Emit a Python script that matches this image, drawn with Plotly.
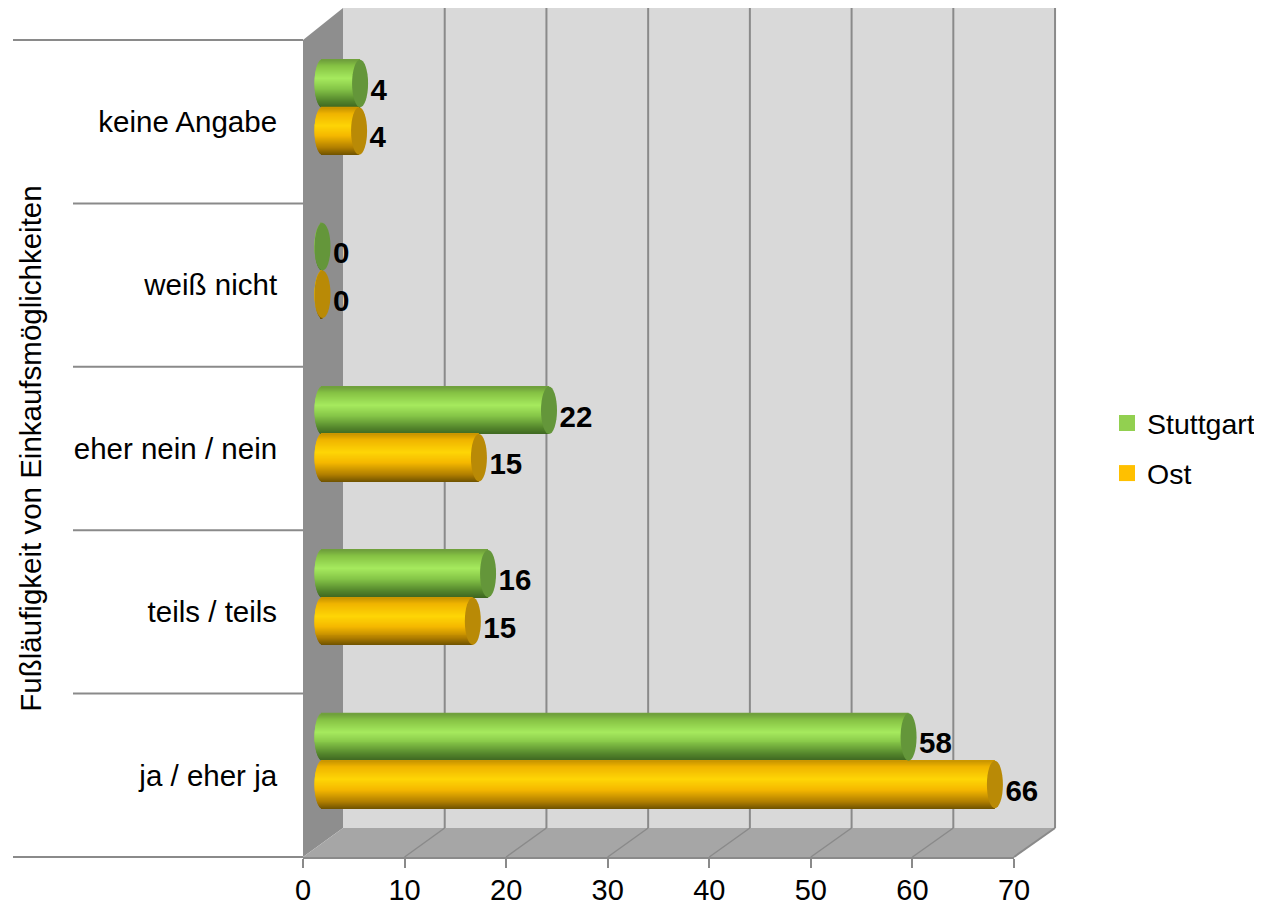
import math
import plotly.graph_objects as go

categories = ["ja / eher ja", "teils / teils", "eher nein / nein", "weiß nicht", "keine Angabe"]
stuttgart = [57.7, 16.3, 22.3, 0, 3.7]
ost = [66.2, 14.8, 15.4, 0, 3.6]
x_ticks = [0, 10, 20, 30, 40, 50, 60, 70]
axis_title = "Fußläufigkeit von Einkaufsmöglichkeiten"

PAGE = 8                   # default page margin of the written html
W, H = 1262, 906
FONT = "Liberation Sans"
TXT = 29.5
X0, X70, Y_BOT, Y_TOP = 303, 1014, 857, 40
ppx = (X70 - X0) / 70
ppy = (Y_BOT - Y_TOP) / 5
RX, RB, RT = 343, 828, 8   # rear wall left / bottom / top
DX = 101.72                # rear grid spacing


def px(x):
    return (x - PAGE) / W


def py(y):
    return 1 - (y - PAGE) / H


def poly(points, fill, line="#8a8a8a", width=1.5):
    path = "M" + " L".join(f"{px(a):.5f},{py(b):.5f}" for a, b in points) + " Z"
    return dict(type="path", xref="paper", yref="paper", path=path, fillcolor=fill,
                line=dict(color=line, width=width), layer="below")


def seg(a, b, c, d, width=2, color="#8a8a8a"):
    return dict(type="line", xref="paper", yref="paper", x0=px(a), y0=py(b), x1=px(c), y1=py(d),
                line=dict(color=color, width=width), layer="below")


shapes = [
    poly([(RX, RT), (RX + 7 * DX, RT), (RX + 7 * DX, RB), (RX, RB)], "#d9d9d9", line="#d9d9d9", width=0),
    poly([(X0, Y_TOP), (RX, RT), (RX, RB), (X0, Y_BOT)], "#8e8e8e", line="#8e8e8e", width=0),
    poly([(X0, Y_BOT), (RX, RB), (RX + 7 * DX, RB), (X70, Y_BOT)], "#a6a6a6", line="#a6a6a6", width=0),
    seg(RX + 7 * DX, RT, RX + 7 * DX, RB),
    seg(RX + 7 * DX, RB, X70, Y_BOT),
]
for k in range(1, 7):
    shapes.append(seg(RX + k * DX, RT, RX + k * DX, RB))
    shapes.append(seg(X0 + k * 10 * ppx, Y_BOT, RX + k * DX, RB, width=1.5))

# category separators left of the wall
shapes.append(seg(13, Y_TOP, X0, Y_TOP))
shapes.append(seg(13, Y_BOT, X0, Y_BOT))
for k in range(1, 5):
    shapes.append(seg(73, Y_TOP + k * ppy, X0, Y_TOP + k * ppy))

# cylinder geometry in axis units
x_start = 19.5 / ppx
cap_rx = 8 / ppx
half_h = 47.5 / ppy
lift = 14.5 / ppy

green_stops = [(0, "#6f9e3c"), (0.12, "#86c244"), (0.38, "#a6ea5e"), (0.6, "#86c648"), (0.85, "#54862c"), (1, "#3c6420")]
orange_stops = [(0, "#c99500"), (0.12, "#f0b400"), (0.38, "#ffd606"), (0.6, "#f5b800"), (0.85, "#b07e00"), (1, "#6f5200")]


def blend(stops, t):
    for (a, ca), (b, cb) in zip(stops, stops[1:]):
        if t <= b:
            f = (t - a) / (b - a)
            vals = [int(ca[i:i + 2], 16) * (1 - f) + int(cb[i:i + 2], 16) * f for i in (1, 3, 5)]
            return "rgb(%d,%d,%d)" % tuple(vals)
    return stops[-1][1]


ypos = list(range(len(categories)))
N = 48
fig = go.Figure()


def cylinder(values, stops, cap_color, low):
    """low: lower edge of the cylinder relative to the category centre (axis units)"""
    h = half_h
    for i in range(N):
        t = (i + 0.5) / N              # 0 = bottom edge, 1 = top edge
        u = 2 * t - 1
        left = x_start - cap_rx * math.sqrt(1 - u * u)
        fig.add_trace(go.Bar(
            y=ypos, x=[v + x_start - left for v in values], base=left,
            offset=low + i * h / N, width=h / N * 1.5,
            orientation="h", marker=dict(color=blend(stops, 1 - t), line=dict(width=0)),
            showlegend=False, hoverinfo="skip"))
    for y, v in zip(ypos, values):
        shapes.append(dict(type="circle", xref="x", yref="y",
                           x0=v + x_start - cap_rx, x1=v + x_start + cap_rx,
                           y0=y + low, y1=y + low + h,
                           fillcolor=cap_color, line=dict(width=0), layer="above"))


cylinder(stuttgart, green_stops, "#64963a", lift)
cylinder(ost, orange_stops, "#b98a06", lift - half_h)

# data labels
for values, low in ((stuttgart, lift), (ost, lift - half_h)):
    fig.add_trace(go.Scatter(
        x=[v + x_start + cap_rx + 0.25 for v in values],
        y=[y + low + half_h / 2 - 9 / ppy for y in ypos],
        text=[f"{v:.0f}" for v in values], mode="text", textposition="middle right",
        textfont=dict(family=FONT, size=TXT, color="#000000"), texttemplate="<b>%{text}</b>",
        showlegend=False, hoverinfo="skip", cliponaxis=False))

# legend entries
for name, col in (("Stuttgart", "#92d050"), ("Ost", "#ffc000")):
    fig.add_trace(go.Scatter(x=[None], y=[None], mode="markers", name=name, legendgroup=name,
                             marker=dict(symbol="square", size=16, color=col)))

fig.update_layout(
    width=W, height=H, margin=dict(l=0, r=0, t=0, b=0, autoexpand=False), autosize=False,
    paper_bgcolor="white", plot_bgcolor="rgba(0,0,0,0)", barmode="overlay",
    font=dict(family=FONT, size=TXT, color="#000000"), shapes=shapes,
    xaxis=dict(domain=[px(X0), px(X70)], range=[0, 70], tickvals=x_ticks, showgrid=False, zeroline=False,
               showline=True, linecolor="#8a8a8a", linewidth=2, ticks="outside", ticklen=9, tickwidth=2,
               tickcolor="#8a8a8a", tickfont=dict(size=29), ticklabelstandoff=-3, anchor="y"),
    yaxis=dict(domain=[py(Y_BOT), py(Y_TOP)], range=[-0.5, 4.5], tickvals=ypos, ticktext=categories,
               showgrid=False, zeroline=False, showline=False, ticks="outside", ticklen=19,
               tickcolor="rgba(0,0,0,0)", tickfont=dict(size=TXT), automargin=False,
               title=dict(text=axis_title, font=dict(size=TXT), standoff=23), anchor="x"),
    legend=dict(x=px(1107), y=py(398), xanchor="left", yanchor="top", tracegroupgap=10,
                font=dict(size=28.5), itemwidth=30, bgcolor="rgba(0,0,0,0)"),
    showlegend=True,
)
fig.write_html("out.html")
